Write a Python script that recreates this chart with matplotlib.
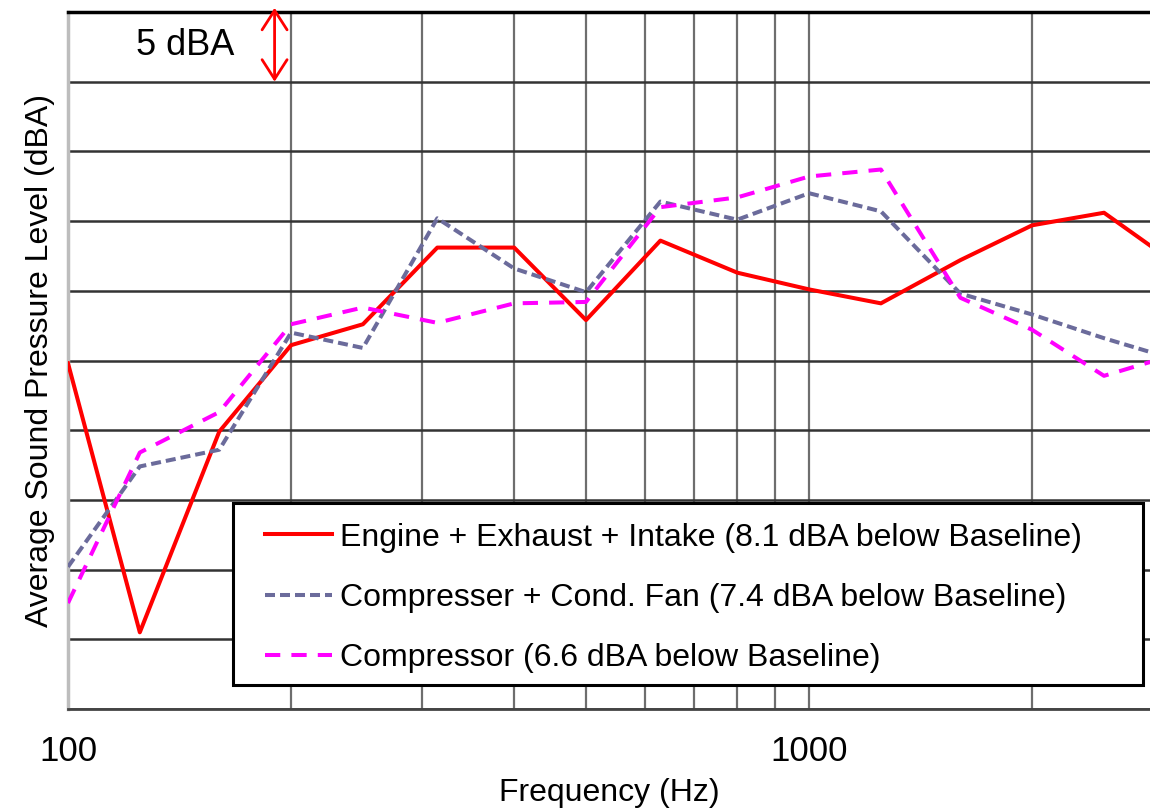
import matplotlib
matplotlib.use('Agg')
import matplotlib.pyplot as plt
from matplotlib.patches import Rectangle
from matplotlib.ticker import LogLocator, NullFormatter, FixedLocator

plt.rcParams['font.family'] = ['Liberation Sans', 'DejaVu Sans']
plt.rcParams['lines.scale_dashes'] = False

# 1/3 octave band centre frequencies
freq = [100, 125, 160, 200, 250, 315, 400, 500, 630, 800, 1000, 1250, 1600, 2000, 2500, 3150]

engine = [24.8, 5.5, 19.9, 26.1, 27.6, 33.1, 33.1, 27.9, 33.6, 31.3, 30.1, 29.1, 32.2, 34.7, 35.6, 31.8]
comp_fan = [10.2, 17.4, 18.6, 27.0, 25.9, 35.2, 31.6, 29.9, 36.4, 35.1, 37.0, 35.7, 29.8, 28.3, 26.6, 25.0]
compressor = [7.6, 18.4, 21.3, 27.6, 28.8, 27.7, 29.1, 29.2, 36.0, 36.7, 38.2, 38.7, 29.5, 27.2, 23.9, 25.5]

labels = ['Engine + Exhaust + Intake (8.1 dBA below Baseline)',
          'Compresser + Cond. Fan (7.4 dBA below Baseline)',
          'Compressor (6.6 dBA below Baseline)']

fig = plt.figure(figsize=(11.5, 8.09), dpi=100)
ax = fig.add_axes([68 / 1150, 1 - 709 / 809, 1082 / 1150, 697 / 809])

ax.plot(freq, engine, color='#ff0000', lw=2.9, label=labels[0], zorder=5)
ax.plot(freq, comp_fan, color='#6b6b9b', lw=2.9, dashes=(7.2, 3.6), label=labels[1], zorder=5)
ax.plot(freq, compressor, color='#ff00ff', lw=2.9, dashes=(11, 8), label=labels[2], zorder=5)

ax.set_xscale('log')
ax.set_xlim(100, 2884)
ax.set_ylim(0, 50)
ax.xaxis.set_major_locator(FixedLocator([100, 1000]))
ax.xaxis.set_minor_locator(LogLocator(base=10, subs=range(2, 10)))
ax.xaxis.set_minor_formatter(NullFormatter())
ax.set_xticks([100, 1000], ['100', '1000'])
ax.set_yticks(range(0, 51, 5))
ax.set_yticklabels([])
ax.tick_params(which='both', length=0)
ax.tick_params(axis='x', labelsize=25, pad=19)

ax.grid(axis='x', which='both', color='#6e6e6e', lw=1.6, zorder=1)
ax.grid(axis='y', which='major', color='#333333', lw=1.8, zorder=1)

ax.spines['right'].set_visible(False)
ax.spines['top'].set_color('black')
ax.spines['top'].set_linewidth(2.5)
ax.spines['left'].set_color('#bdbdbd')
ax.spines['left'].set_linewidth(2.5)
ax.spines['bottom'].set_color('#444444')
ax.spines['bottom'].set_linewidth(2.0)

ax.set_xlabel('Frequency (Hz)', fontsize=23, labelpad=7)
ax.set_ylabel('Average Sound Pressure Level (dBA)', fontsize=23, labelpad=6)

# scale marker
ax.annotate('', xy=(190, 45), xytext=(190, 50.3),
            arrowprops=dict(arrowstyle='<->,head_length=0.7,head_width=0.45',
                            color='red', lw=2, mutation_scale=20, shrinkA=0, shrinkB=0),
            annotation_clip=False, zorder=6)
ax.text(144, 47.6, '5 dBA', fontsize=26, ha='center', va='center')

# legend box
box = Rectangle((0.1525, 0.0344), 0.841, 0.2611, transform=ax.transAxes,
                facecolor='white', edgecolor='black', lw=2.2, zorder=9)
ax.add_patch(box)
leg = ax.legend(loc='center left', bbox_to_anchor=(0.182, 0.1593),
                borderaxespad=0, fontsize=23, handlelength=2.1,
                handletextpad=0.25, labelspacing=0.95, borderpad=0,
                frameon=False)
leg.set_zorder(10)

fig.savefig('out.png', dpi=100)
